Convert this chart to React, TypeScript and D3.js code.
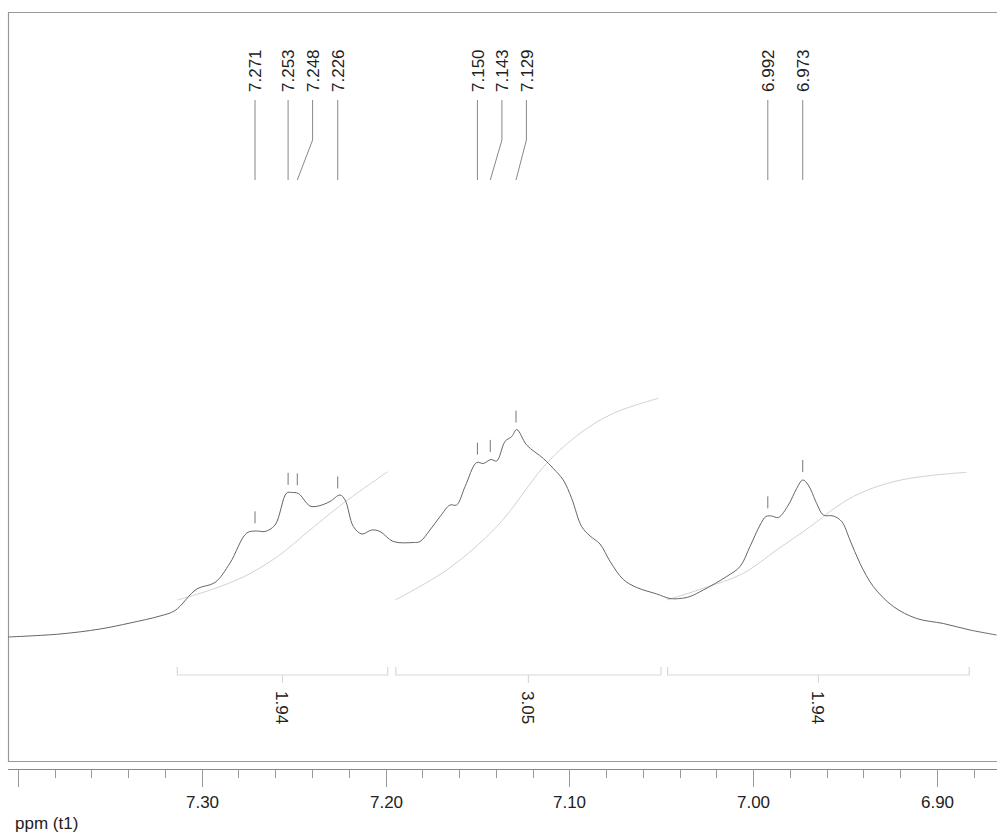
import React from "react";
import * as d3 from "d3";

// Spectrum trace: [ppm, intensity]
const spectrum: [number, number][] = [
  [7.4054, 0.6], [7.3771, 1.2], [7.3553, 2.2], [7.339, 3.4], [7.3227, 4.8], [7.3145, 5.9],
  [7.3027, 10.2], [7.2928, 11.5], [7.2846, 15.4], [7.2755, 21.4], [7.2701, 21.8], [7.2656, 21.7],
  [7.2601, 23.0], [7.2538, 29.4], [7.251, 29.5], [7.2474, 29.3], [7.2411, 26.8], [7.2366, 26.8],
  [7.2302, 27.7], [7.2248, 29.0], [7.222, 28.0], [7.2175, 22.7], [7.2129, 21.2], [7.2075, 22.0],
  [7.203, 21.7], [7.1958, 19.7], [7.1849, 19.5], [7.1812, 19.7], [7.1758, 22.0], [7.1703, 24.7],
  [7.1649, 27.0], [7.1613, 27.0], [7.1567, 30.7], [7.1504, 35.5], [7.1468, 35.3], [7.1426, 36.1],
  [7.1395, 35.8], [7.135, 39.7], [7.1313, 40.7], [7.1286, 42.1], [7.1232, 39.0], [7.1141, 36.3],
  [7.1087, 34.3], [7.1033, 32.0], [7.0987, 28.3], [7.0933, 22.7], [7.0887, 20.8], [7.0833, 19.2],
  [7.0778, 15.7], [7.0706, 12.1], [7.0633, 10.5], [7.0524, 9.2], [7.0452, 8.3], [7.0398, 8.3],
  [7.0343, 8.7], [7.0271, 10.0], [7.0144, 12.7], [7.0071, 14.7], [7.0017, 18.7], [6.9962, 23.0],
  [6.993, 24.7], [6.9899, 24.8], [6.9863, 24.5], [6.9808, 27.0], [6.9763, 30.3], [6.973, 32.0],
  [6.97, 31.0], [6.9654, 27.3], [6.9618, 25.0], [6.9564, 24.8], [6.9518, 23.7], [6.9473, 20.0],
  [6.9418, 15.3], [6.9346, 10.7], [6.9237, 6.7], [6.911, 4.3], [6.8965, 3.3], [6.882, 2.0],
  [6.8675, 1.0],
];

// Picked peaks (ppm)
const peaks: number[] = [7.271, 7.253, 7.248, 7.226, 7.15, 7.143, 7.129, 6.992, 6.973];

// Integral regions
const integralStart: number[] = [7.3133, 7.1944, 7.0465];
const integralEnd: number[] = [7.1988, 7.0501, 6.8824];
const integralValues: number[] = [1.94, 3.05, 1.94];

// Integral curves: [ppm, cumulative value]
const integralCurve1: [number, number][] = [
  [7.3133, 0], [7.2952, 0.152], [7.2771, 0.353], [7.2589, 0.656], [7.2411, 1.061], [7.223, 1.465], [7.1988, 1.944],
];
const integralCurve2: [number, number][] = [
  [7.1948, 0], [7.1667, 0.455], [7.1395, 1.111], [7.1123, 2.071], [7.0942, 2.525], [7.0761, 2.828], [7.0516, 3.056],
];
const integralCurve3: [number, number][] = [
  [7.047, 0], [7.0271, 0.177], [7.0053, 0.405], [6.9872, 0.758], [6.969, 1.11], [6.9545, 1.414],
  [6.9419, 1.617], [6.9237, 1.792], [6.9056, 1.879], [6.8838, 1.935],
];
const integralCurves = [integralCurve1, integralCurve2, integralCurve3];

// Axis ticks in units of 0.02 ppm
const tickIndices: number[] = d3.range(344, 371);
const axisTitle = "ppm (t1)";

const W = 997;
const H = 837;
const FONT = "'Liberation Sans', Arial, Helvetica, sans-serif";

export default function App() {
  const x = d3.scaleLinear().domain([7.4054, 6.8673]).range([8, 997]);
  const y = d3.scaleLinear().domain([0, 100]).range([640, 140]);
  const yi = d3.scaleLinear().domain([0, 1]).range([600, 534]);

  const line = d3
    .line<[number, number]>()
    .x((d) => x(d[0]))
    .y((d) => y(d[1]))
    .curve(d3.curveCatmullRom.alpha(0.5));
  const iline = d3
    .line<[number, number]>()
    .x((d) => x(d[0]))
    .y((d) => yi(d[1]))
    .curve(d3.curveCatmullRom.alpha(0.5));

  const sorted = [...spectrum].sort((a, b) => a[0] - b[0]);
  const intensityAt = (p: number) => {
    const i = d3.bisector((d: [number, number]) => d[0]).left(sorted, p);
    if (i <= 0) return sorted[0][1];
    if (i >= sorted.length) return sorted[sorted.length - 1][1];
    const a = sorted[i - 1];
    const b = sorted[i];
    const t = (p - a[0]) / (b[0] - a[0]);
    return a[1] + t * (b[1] - a[1]);
  };

  // label layout: push-right with minimum gap
  const gap = 24.5;
  const peakX = peaks.map((p) => x(p));
  const order = d3.range(peaks.length).sort((a, b) => peakX[a] - peakX[b]);
  const labelX: number[] = new Array(peaks.length);
  let last = -Infinity;
  order.forEach((i) => {
    const lx = Math.max(peakX[i], last + gap);
    labelX[i] = lx;
    last = lx;
  });

  const labelBaseY = 92;
  const lineTop = 100;
  const bendY = 140;
  const lineBottom = 180;

  return (
    <svg width={W} height={H} style={{ display: "block", position: "absolute", left: 0, top: 0 }}>
      <defs>
        <clipPath id="plotClip">
          <rect x={8} y={13} width={W - 8} height={748} />
        </clipPath>
      </defs>
      <rect x={0} y={0} width={W} height={H} fill="#fff" />
      <path d={`M${W + 2},12.5 H8.5 V761.5 H${W + 2}`} fill="none" stroke="#999" strokeWidth={1.2} />

      {peaks.map((p, i) => {
        const lx = labelX[i];
        const px = peakX[i];
        const d =
          Math.abs(lx - px) < 0.8
            ? `M${lx},${lineTop} V${lineBottom}`
            : `M${lx},${lineTop} V${bendY} L${px},${lineBottom}`;
        return (
          <g key={"pk" + i}>
            <path d={d} fill="none" stroke="#888" strokeWidth={1} />
            <text
              transform={`translate(${lx},${labelBaseY}) rotate(-90)`}
              dy="0.36em"
              fontFamily={FONT}
              fontSize={17}
              fill="#222"
            >
              {p.toFixed(3)}
            </text>
          </g>
        );
      })}

      <g clipPath="url(#plotClip)">
        {integralCurves.map((c, i) => (
          <path key={"ic" + i} d={iline(c) || ""} fill="none" stroke="#d2d2d2" strokeWidth={1} />
        ))}
        <path d={line(spectrum) || ""} fill="none" stroke="#666" strokeWidth={1} />
        {peaks.map((p, i) => {
          const yp = y(intensityAt(p));
          return (
            <line
              key={"pm" + i}
              x1={peakX[i]}
              x2={peakX[i]}
              y1={yp - 20}
              y2={yp - 8}
              stroke="#777"
              strokeWidth={1}
            />
          );
        })}
      </g>

      {integralValues.map((v, i) => {
        const x0 = x(integralStart[i]);
        const x1 = x(integralEnd[i]);
        const xm = (x0 + x1) / 2;
        return (
          <g key={"ib" + i}>
            <path
              d={`M${x0},667 V675 H${x1} V667 M${xm},675 V683`}
              fill="none"
              stroke="#d8d8d8"
              strokeWidth={1.2}
            />
            <text
              transform={`translate(${xm},691) rotate(90)`}
              dy="0.36em"
              fontFamily={FONT}
              fontSize={17}
              fill="#222"
            >
              {v.toFixed(2)}
            </text>
          </g>
        );
      })}

      <line x1={8} x2={W} y1={769.5} y2={769.5} stroke="#888" strokeWidth={1.2} />
      {tickIndices.map((t) => {
        const v = t / 50;
        const xx = Math.round(x(v)) + 0.5;
        const major = t % 5 === 0;
        const showLabel = major && xx - 20 > 8 && xx + 20 < W;
        return (
          <g key={"t" + t}>
            <line x1={xx} x2={xx} y1={769.5} y2={major ? 787 : 778} stroke="#999" strokeWidth={1} />
            {showLabel && (
              <text x={xx} y={808} textAnchor="middle" fontFamily={FONT} fontSize={17} fill="#222">
                {v.toFixed(2)}
              </text>
            )}
          </g>
        );
      })}
      <text x={15} y={829} fontFamily={FONT} fontSize={17} fill="#222">
        {axisTitle}
      </text>
    </svg>
  );
}
